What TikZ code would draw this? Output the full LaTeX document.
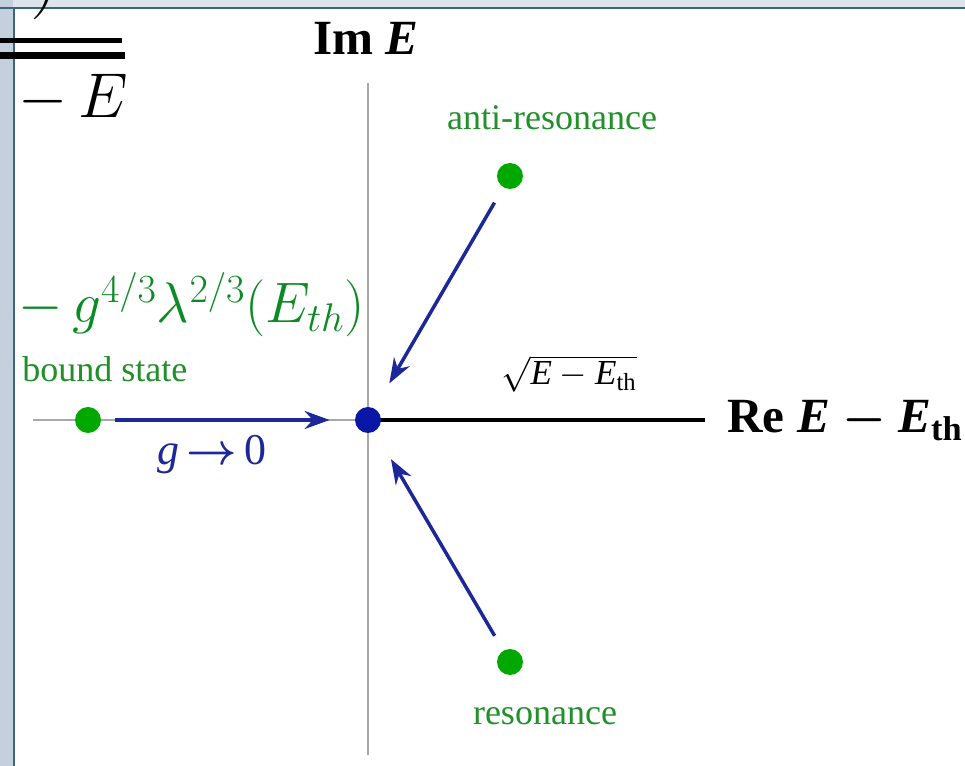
\RequirePackage{fix-cm}
\documentclass[tikz,border=0pt]{standalone}
\usepackage{amsmath}
\usepackage{fontspec}
\setmainfont{Liberation Serif}
\usetikzlibrary{arrows.meta}
\definecolor{dotgreen}{HTML}{00A800}
\definecolor{labelgreen}{HTML}{22902A}
\definecolor{formulagreen}{HTML}{0C8A24}
\definecolor{arrowblue}{HTML}{1C2898}
\definecolor{dotblue}{HTML}{0A16A6}
\definecolor{axisgray}{HTML}{A8A8A8}
\definecolor{bandblue}{HTML}{C4D0DE}
\definecolor{bandtop}{HTML}{DCE3EB}
\definecolor{frameline}{HTML}{3B6778}
\newcommand{\thsub}[1]{_{\textup{#1}}}

\begin{document}
\begin{tikzpicture}[x=0.02cm,y=-0.02cm,
 dot/.style={circle,inner sep=0pt,minimum size=5.2mm},
 arrow/.style={-{Stealth[length=5mm,width=3.6mm]},line width=0.7mm,draw=arrowblue},
 tag/.style={text=labelgreen,font=\fontsize{20.5}{24}\selectfont,inner sep=0pt},
 axislabel/.style={font=\fontsize{28}{32}\selectfont\bfseries,inner sep=0pt},
 cutoff/.style={inner sep=0pt,font=\fontsize{36}{40}\selectfont}]
 \useasboundingbox (0,0) rectangle (965,766);
 \clip (0,0) rectangle (965,766);
 \fill[white] (0,0) rectangle (965,766);
 % window frame of the slide behind
 \fill[bandtop] (0,0) rectangle (965,8);
 \fill[bandblue] (0,0) rectangle (13,766);
 \draw[frameline,line width=0.4mm] (0,8) -- (965,8);
 \draw[frameline,line width=0.5mm] (14,8) -- (14,766);
 % leftovers of the slide text
 \node[cutoff,anchor=base west,font=\fontsize{48}{52}\selectfont] (paren) at (30,-1) {$)$};
 \draw[line width=1mm] (0,41) -- (122,41);
 \draw[line width=1.4mm] (0,56) -- (125,56);
 \node[cutoff,anchor=base west] (minusE) at (18,118) {$-\mskip3mu E$};
 \node[inner sep=0pt,anchor=base west,text=formulagreen,font=\fontsize{32.5}{36}\selectfont]
   (shift) at (18,323) {$-\mskip3mu g^{4/3}\lambda^{2/3}(E_{th})$};
 % axes
 \coordinate (imtop) at (368,83);
 \coordinate (imbot) at (368,755);
 \coordinate (releft) at (33,420);
 \coordinate (reright) at (705,420);
 \coordinate (zero) at (368,420);
 \draw[axisgray,line width=0.4mm] (imtop) -- (imbot);
 \draw[axisgray,line width=0.4mm] (releft) -- (zero);
 \draw[black,line width=0.7mm] (zero) -- (reright);
 \node[axislabel,anchor=base] (imlabel) at (366,55) {Im \textit{E}};
 \node[axislabel,anchor=base west] (relabel) at (727,433)
   {Re \textit{E} {\boldmath$-$} \textit{E}\textsubscript{th}};
 \node[inner sep=0pt,anchor=base west,font=\fontsize{20}{24}\selectfont]
   (cut) at (501,385) {$\sqrt{\textit{E}-\textit{E}\thsub{th}}$};
 % poles
 \node[dot,fill=dotblue] (origin) at (368,420) {};
 \node[dot,fill=dotgreen] (bound) at (88,420) {};
 \node[dot,fill=dotgreen] (anti) at (510,176) {};
 \node[dot,fill=dotgreen] (reso) at (510,662) {};
 \node[tag,anchor=base west] (boundlabel) at (22,382) {bound state};
 \node[tag,anchor=base] (antilabel) at (552,130) {anti-resonance};
 \node[tag,anchor=base] (resolabel) at (545,725) {resonance};
 % flow as g goes to zero
 \draw[arrow,shorten <=2.8mm,shorten >=5mm] (bound) -- (origin);
 \draw[arrow,shorten <=3.5mm,shorten >=5.8mm] (anti) -- (origin);
 \draw[arrow,shorten <=3.4mm,shorten >=6.4mm] (reso) -- (origin);
 \node[inner sep=0pt,anchor=base,text=arrowblue,font=\fontsize{25}{28}\selectfont]
   (limit) at (212,465) {\textit{g}\,$\boldsymbol{\rightarrow}$\,0};
\end{tikzpicture}
\end{document}
